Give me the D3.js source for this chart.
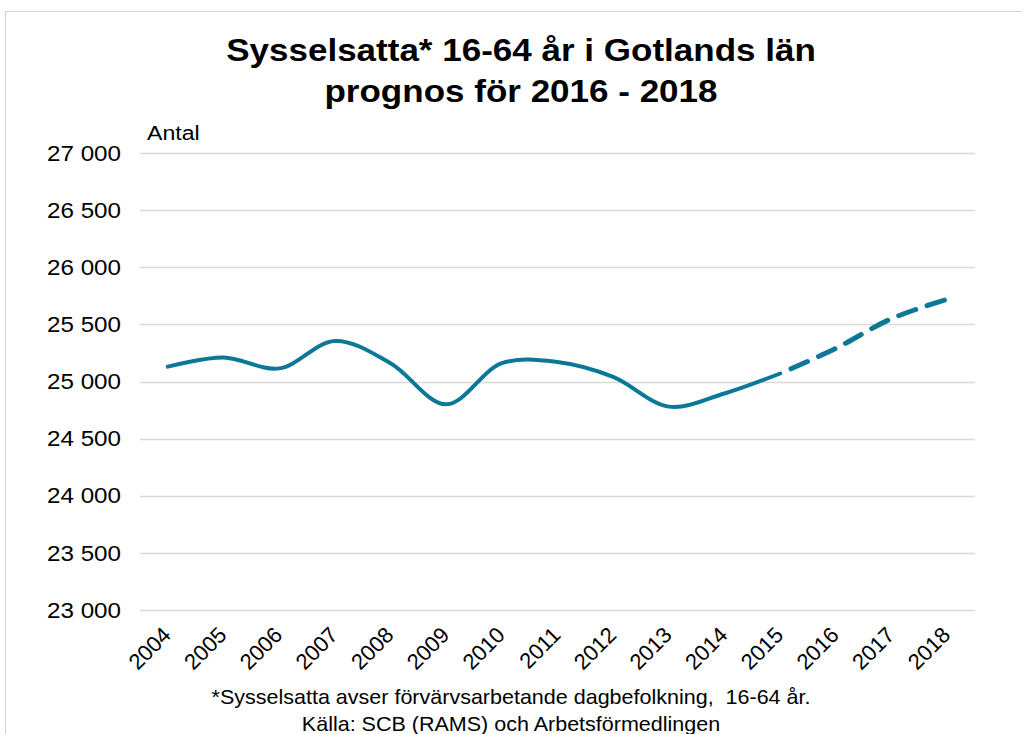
<!DOCTYPE html>
<html>
<head>
<meta charset="utf-8">
<script src="https://cdn.jsdelivr.net/npm/d3@7"></script>
<style>
  body { margin: 0; background: #fff; }
  text { font-family: "Liberation Sans", Arial, sans-serif; fill: #000; }
</style>
</head>
<body>
<div id="chart"></div>
<script>
// data
var years = ["2004","2005","2006","2007","2008","2009","2010","2011","2012","2013","2014","2015","2016","2017","2018"];
var employed = [25130, 25210, 25115, 25355, 25160, 24800, 25160, 25170, 25040, 24780, 24895, 25070, 25290, 25550, 25720];
var forecastFrom = "2015";
var yTicks = [23000, 23500, 24000, 24500, 25000, 25500, 26000, 26500, 27000];

var width = 1022, height = 734;
var margin = {top: 153, right: 47, bottom: 124, left: 140};
var plotW = width - margin.left - margin.right,
    plotH = height - margin.top - margin.bottom;

// the reference text is a bit wider than Arial, stretch it sideways
var stretch = 1.1;

var svg = d3.select("#chart")
  .append("svg")
    .attr("width", width)
    .attr("height", height);

// frame lines at top and left (chart is cut from a larger page)
svg.append("line").attr("x1", 5).attr("x2", width).attr("y1", 11.5).attr("y2", 11.5)
  .attr("stroke", "#d4d4d4");
svg.append("line").attr("x1", 5.5).attr("x2", 5.5).attr("y1", 11).attr("y2", height)
  .attr("stroke", "#d4d4d4");

var g = svg.append("g")
  .attr("transform", "translate(" + margin.left + "," + margin.top + ")");

var x = d3.scalePoint()
  .domain(years)
  .range([0, plotW])
  .padding(0.5);

var y = d3.scaleLinear()
  .domain([23000, 27000])
  .range([plotH, 0]);

// gridlines
g.append("g")
  .selectAll("line")
  .data(yTicks)
  .enter()
  .append("line")
    .attr("x1", 0)
    .attr("x2", plotW)
    .attr("y1", function (d) { return Math.round(y(d)) + 0.5; })
    .attr("y2", function (d) { return Math.round(y(d)) + 0.5; })
    .attr("stroke", "#d9d9d9")
    .attr("stroke-width", 1.3);

// Y axis labels
var fmt = function (d) { return d3.format(",")(d).replace(",", " "); };
g.append("g")
  .selectAll("text")
  .data(yTicks)
  .enter()
  .append("text")
    .attr("transform", function (d) {
      return "translate(-19," + y(d) + ") scale(" + stretch + ",1)";
    })
    .attr("dy", "0.35em")
    .attr("text-anchor", "end")
    .style("font-size", "22px")
    .text(fmt);

// X axis labels, rotated
g.append("g")
  .selectAll("text")
  .data(years)
  .enter()
  .append("text")
    .attr("transform", function (d) {
      return "translate(" + (x(d) - 1) + "," + (plotH + 21) + ") rotate(-45)";
    })
    .attr("text-anchor", "end")
    .attr("dy", "0.35em")
    .style("font-size", "22px")
    .text(function (d) { return d; });

// the line, solid up to forecastFrom, dashed after
var pts = years.map(function (d, i) { return {year: d, value: employed[i]}; });
var line = d3.line()
  .x(function (d) { return x(d.year); })
  .y(function (d) { return y(d.value); })
  .curve(d3.curveCatmullRom.alpha(0.5));

var cut = years.indexOf(forecastFrom);
g.append("path")
  .datum(pts.slice(0, cut + 1))
  .attr("d", line)
  .attr("fill", "none")
  .attr("stroke", "#0a7896")
  .attr("stroke-width", 4)
  .attr("stroke-linecap", "round");

g.append("path")
  .datum(pts.slice(cut))
  .attr("d", line)
  .attr("fill", "none")
  .attr("stroke", "#0a7896")
  .attr("stroke-width", 5)
  .attr("stroke-linecap", "round")
  .attr("stroke-dasharray", "18,12")
  .attr("stroke-dashoffset", -12);

// titles
function label(txt, xPos, yPos, size, bold, sx) {
  svg.append("text")
    .attr("transform", "translate(" + xPos + "," + yPos + ") scale(" + sx + ",1)")
    .attr("text-anchor", "middle")
    .attr("xml:space", "preserve")
    .style("font-size", size + "px")
    .style("font-weight", bold ? "bold" : "normal")
    .text(txt);
}
label("Sysselsatta* 16-64 år i Gotlands län", 521, 61, 31, true, 1.13);
label("prognos för 2016 - 2018", 521, 102, 31, true, 1.13);

svg.append("text")
  .attr("transform", "translate(147,140) scale(" + stretch + ",1)")
  .style("font-size", "21px")
  .text("Antal");

// footnote
label("*Sysselsatta avser förvärvsarbetande dagbefolkning,  16-64 år.", 511, 704, 20.5, false, 1.05);
label("Källa: SCB (RAMS) och Arbetsförmedlingen", 511, 731, 20.5, false, 1.05);
</script>
</body>
</html>
